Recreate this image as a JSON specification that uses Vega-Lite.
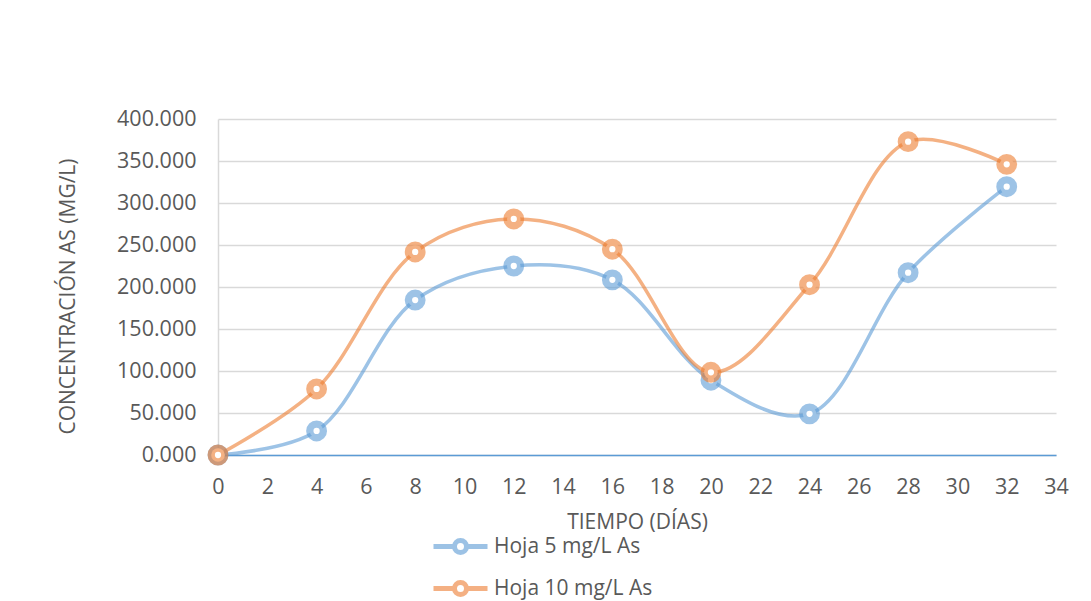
{
  "$schema": "https://vega.github.io/schema/vega-lite/v6.json",
  "width": 838,
  "height": 336,
  "autosize": "none",
  "padding": {"left": 218, "top": 119, "right": 35, "bottom": 146},
  "background": "white",
  "config": {"view": {"stroke": null}, "font": "Open Sans"},
  "data": {
    "values": [
      {"t": 0, "c": 0, "serie": "Hoja 5 mg/L As"},
      {"t": 4, "c": 28.6, "serie": "Hoja 5 mg/L As"},
      {"t": 8, "c": 184.5, "serie": "Hoja 5 mg/L As"},
      {"t": 12, "c": 225, "serie": "Hoja 5 mg/L As"},
      {"t": 16, "c": 208.5, "serie": "Hoja 5 mg/L As"},
      {"t": 20, "c": 89, "serie": "Hoja 5 mg/L As"},
      {"t": 24, "c": 49, "serie": "Hoja 5 mg/L As"},
      {"t": 28, "c": 217, "serie": "Hoja 5 mg/L As"},
      {"t": 32, "c": 319.4, "serie": "Hoja 5 mg/L As"},
      {"t": 0, "c": 0, "serie": "Hoja 10 mg/L As"},
      {"t": 4, "c": 78.6, "serie": "Hoja 10 mg/L As"},
      {"t": 8, "c": 241.7, "serie": "Hoja 10 mg/L As"},
      {"t": 12, "c": 281, "serie": "Hoja 10 mg/L As"},
      {"t": 16, "c": 245, "serie": "Hoja 10 mg/L As"},
      {"t": 20, "c": 98.5, "serie": "Hoja 10 mg/L As"},
      {"t": 24, "c": 202.7, "serie": "Hoja 10 mg/L As"},
      {"t": 28, "c": 373, "serie": "Hoja 10 mg/L As"},
      {"t": 32, "c": 346, "serie": "Hoja 10 mg/L As"}
    ]
  },
  "encoding": {
    "x": {
      "field": "t",
      "type": "quantitative",
      "scale": {"domain": [0, 34], "nice": false},
      "axis": {
        "values": [0, 2, 4, 6, 8, 10, 12, 14, 16, 18, 20, 22, 24, 26, 28, 30, 32, 34],
        "grid": false,
        "ticks": false,
        "domainColor": "#5B9BD5",
        "domainWidth": 1.5,
        "labelFontSize": 21.5,
        "labelColor": "#595959",
        "labelPadding": 21,
        "labelFlush": false,
        "title": "TIEMPO (DÍAS)",
        "titleFontSize": 21,
        "titleFontWeight": "normal",
        "titleColor": "#595959",
        "titleX": 419,
        "titleY": 67,
        "titleBaseline": "middle"
      }
    },
    "y": {
      "field": "c",
      "type": "quantitative",
      "scale": {"domain": [0, 400], "nice": false},
      "axis": {
        "values": [0, 50, 100, 150, 200, 250, 300, 350, 400],
        "format": ".3f",
        "grid": true,
        "gridColor": "#D9D9D9",
        "gridWidth": 1.5,
        "ticks": false,
        "domainColor": "#D9D9D9",
        "domainWidth": 1.5,
        "labelFontSize": 21.5,
        "labelColor": "#595959",
        "labelPadding": 22,
        "title": "CONCENTRACIÓN AS (MG/L)",
        "titleFontSize": 21,
        "titleFontWeight": "normal",
        "titleColor": "#595959",
        "titleX": -150,
        "titleY": 177,
        "titleBaseline": "middle"
      }
    },
    "color": {
      "field": "serie",
      "type": "nominal",
      "scale": {"domain": ["Hoja 5 mg/L As", "Hoja 10 mg/L As"], "range": ["#5B9BD5", "#ED7D31"]},
      "legend": {
        "title": null,
        "orient": "none",
        "legendX": 228,
        "legendY": 413,
        "padding": 0,
        "rowPadding": 9,
        "symbolType": "M-2.25,0H-0.5M0.5,0H2.25M0.5,0A0.5,0.5,0,1,1,-0.5,0A0.5,0.5,0,1,1,0.5,0Z",
        "symbolSize": 576,
        "symbolStrokeWidth": 5,
        "symbolFillColor": "white",
        "symbolOpacity": 0.6,
        "labelFontSize": 21,
        "labelColor": "#595959",
        "labelOffset": 19
      }
    }
  },
  "layer": [
    {"mark": {"type": "line", "interpolate": "catmull-rom", "strokeWidth": 3.5, "opacity": 0.6}},
    {"mark": {"type": "point", "shape": "circle", "filled": false, "fill": "white", "fillOpacity": 1, "size": 184, "strokeWidth": 7.3, "opacity": 1, "strokeOpacity": 0.6}}
  ]
}
